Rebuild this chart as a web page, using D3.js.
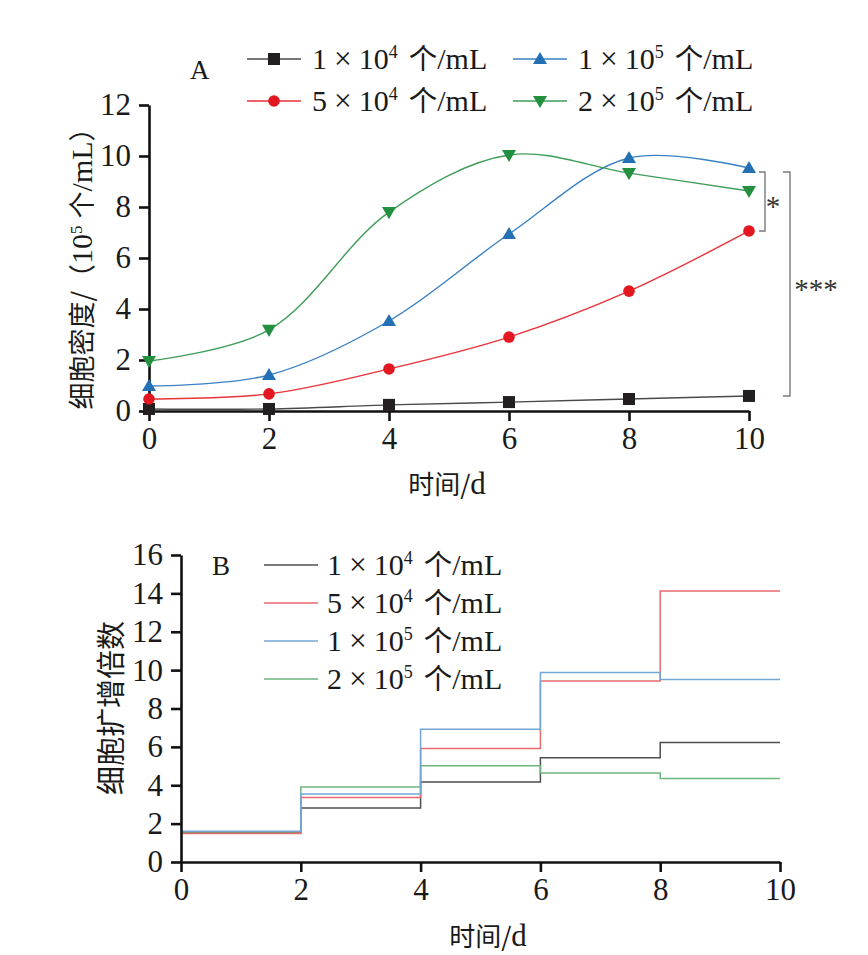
<!DOCTYPE html>
<html><head><meta charset="utf-8">
<script src="https://cdn.jsdelivr.net/npm/d3@7"></script>
<style>body{margin:0;background:#fff}</style>
</head><body>
<svg id="c" width="868" height="955"></svg>
<script>
// ---------- data ----------
const days = [0, 2, 4, 6, 8, 10];
const mantissas = ["1", "5", "1", "2"];
const exponents = ["4", "4", "5", "5"];
// Panel A: cell density (10^5 cells/mL)
const density1e4 = [0.08, 0.08, 0.24, 0.35, 0.47, 0.59];
const density5e4 = [0.47, 0.67, 1.65, 2.90, 4.70, 7.06];
const density1e5 = [0.98, 1.41, 3.53, 6.94, 9.92, 9.53];
const density2e5 = [1.96, 3.18, 7.80, 10.04, 9.33, 8.63];
// Panel B: fold expansion per interval (0-2, 2-4, 4-6, 6-8, 8-10)
const intervalStarts = [0, 2, 4, 6, 8];
const fold1e4 = [1.52, 2.82, 4.17, 5.43, 6.23];
const fold5e4 = [1.48, 3.36, 5.91, 9.43, 14.12];
const fold1e5 = [1.60, 3.55, 6.92, 9.88, 9.51];
const fold2e5 = [1.57, 3.91, 5.01, 4.64, 4.35];
const ticksAY = [0, 2, 4, 6, 8, 10, 12];
const ticksBY = [0, 2, 4, 6, 8, 10, 12, 14, 16];
const ticksX = [0, 2, 4, 6, 8, 10];
const sigLabels = ["*", "***"];

// ---------- styles ----------
const serif = "'Liberation Serif','Times New Roman',serif";
const cjk = "'Noto Sans CJK SC','Noto Sans CJK JP',sans-serif";
const markerColors = ["#231f20", "#e3171f", "#2470b5", "#23903f"];
const lineColorsA = ["#4a4a4a", "#e8333a", "#3a80c2", "#3f9d57"];
const lineColorsB = ["#4d4d4d", "#ea6a70", "#74a6d6", "#6cb57c"];
const markerTypes = ["square", "circle", "up", "down"];

const svg = d3.select("#c");

function axisStyle(g) {
  g.selectAll(".domain").attr("stroke", "#111").attr("stroke-width", 2.6);
  g.selectAll(".tick line").attr("stroke", "#111").attr("stroke-width", 2.6);
  g.selectAll(".tick text").attr("font-family", serif).attr("font-size", 31).attr("fill", "#1a1a1a");
}

function drawMarker(g, type, x, y, color) {
  if (type === "square") {
    g.append("rect").attr("x", x - 6).attr("y", y - 6).attr("width", 12).attr("height", 12).attr("fill", color);
  } else if (type === "circle") {
    g.append("circle").attr("cx", x).attr("cy", y).attr("r", 5.8).attr("fill", color);
  } else {
    const sym = d3.symbol().type(d3.symbolTriangle).size(85);
    g.append("path").attr("d", sym())
      .attr("transform", `translate(${x},${y + (type === "up" ? 1 : -1)}) rotate(${type === "up" ? 0 : 180})`)
      .attr("fill", color);
  }
}

function addLabel(g, x, y, m, e, fs) {
  const t = g.append("text").attr("x", x).attr("y", y).attr("font-size", fs)
    .attr("font-family", serif).attr("fill", "#1a1a1a");
  t.append("tspan").text(m);
  t.append("tspan").attr("dx", 7).attr("font-size", fs * 1.05).text("×");
  t.append("tspan").attr("dx", 7).text("10");
  t.append("tspan").attr("dy", -fs * 0.38).attr("font-size", fs * 0.6).text(e);
  t.append("tspan").attr("dy", fs * 0.38).attr("dx", 11).attr("font-family", cjk).attr("font-size", fs * 0.95).text("个");
  t.append("tspan").text("/mL");
}

// ================= Panel A =================
const xA = d3.scaleLinear().domain([0, 10]).range([149, 749]);
const yA = d3.scaleLinear().domain([0, 12]).range([411, 105]);
const gA = svg.append("g");

gA.append("g").attr("transform", "translate(0,411)")
  .call(d3.axisBottom(xA).tickValues(ticksX).tickSize(10).tickSizeOuter(0).tickPadding(6))
  .call(axisStyle);
gA.append("g").attr("transform", "translate(149,0)")
  .call(d3.axisLeft(yA).tickValues(ticksAY).tickSize(10).tickSizeOuter(0).tickPadding(8))
  .call(axisStyle);

const seriesA = [density1e4, density5e4, density1e5, density2e5];
const lineA = d3.line().x((d, i) => xA(days[i])).y(d => yA(d)).curve(d3.curveCatmullRom.alpha(0.5));
seriesA.forEach((s, k) => {
  gA.append("path").attr("d", lineA(s)).attr("fill", "none")
    .attr("stroke", lineColorsA[k]).attr("stroke-width", 1.4);
});
seriesA.forEach((s, k) => {
  s.forEach((v, i) => drawMarker(gA, markerTypes[k], xA(days[i]), yA(v), markerColors[k]));
});

// significance brackets
const br = gA.append("g").attr("fill", "none").attr("stroke", "#7a7a7a").attr("stroke-width", 1.4);
const b1Top = yA(density1e5[5]) + 4, b1Bot = yA(density5e4[5]);
br.append("path").attr("d", `M759,${b1Top}H765V${b1Bot}H759`);
const b2Top = b1Top, b2Bot = yA(density1e4[5]);
br.append("path").attr("d", `M783,${b2Top}H790V${b2Bot}H783`);
gA.append("text").attr("x", 773).attr("y", (b1Top + b1Bot) / 2 + 15).attr("text-anchor", "middle")
  .attr("font-family", serif).attr("font-size", 29).attr("fill", "#333").text(sigLabels[0]);
gA.append("text").attr("x", 816).attr("y", (b2Top + b2Bot) / 2 + 15).attr("text-anchor", "middle")
  .attr("font-family", serif).attr("font-size", 29).attr("fill", "#333").text(sigLabels[1]);

// titles
gA.append("text").attr("x", 447).attr("y", 494).attr("text-anchor", "middle")
  .attr("font-family", cjk).attr("font-size", 26).attr("fill", "#1a1a1a")
  .text("时间/")
  .append("tspan").attr("font-family", serif).attr("font-size", 31).text("d");
{
  const t = gA.append("text").attr("transform", "translate(92,262) rotate(-90)").attr("text-anchor", "middle")
    .attr("font-family", cjk).attr("font-size", 27).attr("fill", "#1a1a1a");
  t.append("tspan").text("细胞密度/（");
  t.append("tspan").attr("font-family", serif).attr("font-size", 30).text("10");
  t.append("tspan").attr("dy", -10).attr("font-family", serif).attr("font-size", 17).text("5");
  t.append("tspan").attr("dy", 10).attr("dx", 7).text("个");
  t.append("tspan").attr("font-family", serif).attr("font-size", 30).text("/mL");
  t.append("tspan").text("）");
}

// panel letter + legend
gA.append("text").attr("x", 190).attr("y", 79).attr("font-family", serif).attr("font-size", 27)
  .attr("fill", "#1a1a1a").text("A");
const legA = [
  { lx: 247, y: 59 }, { lx: 247, y: 101 }, { lx: 513, y: 59 }, { lx: 513, y: 101 }
];
legA.forEach((p, k) => {
  gA.append("line").attr("x1", p.lx).attr("x2", p.lx + 54).attr("y1", p.y).attr("y2", p.y)
    .attr("stroke", lineColorsA[k]).attr("stroke-width", 1.4);
  drawMarker(gA, markerTypes[k], p.lx + 27, p.y, markerColors[k]);
  addLabel(gA, p.lx + 65, p.y + 10, mantissas[k], exponents[k], 30);
});

// ================= Panel B =================
const xB = d3.scaleLinear().domain([0, 10]).range([181, 780]);
const yB = d3.scaleLinear().domain([0, 16]).range([862, 555]);
const gB = svg.append("g");

const seriesB = [fold1e4, fold5e4, fold1e5, fold2e5];
const lineB = d3.line().x(d => xB(d[0])).y(d => yB(d[1])).curve(d3.curveStepAfter);
[0, 3, 1, 2].forEach(k => {
  const s = seriesB[k];
  const pts = intervalStarts.map((x, i) => [x, s[i]]);
  pts.push([10, s[s.length - 1]]);
  gB.append("path").attr("d", lineB(pts)).attr("fill", "none")
    .attr("stroke", lineColorsB[k]).attr("stroke-width", 1.5);
});

gB.append("g").attr("transform", "translate(0,862)")
  .call(d3.axisBottom(xB).tickValues(ticksX).tickSize(10).tickSizeOuter(0).tickPadding(6))
  .call(axisStyle);
gB.append("g").attr("transform", "translate(181,0)")
  .call(d3.axisLeft(yB).tickValues(ticksBY).tickSize(10).tickSizeOuter(0).tickPadding(8))
  .call(axisStyle);

gB.append("text").attr("x", 488).attr("y", 946).attr("text-anchor", "middle")
  .attr("font-family", cjk).attr("font-size", 26).attr("fill", "#1a1a1a")
  .text("时间/")
  .append("tspan").attr("font-family", serif).attr("font-size", 31).text("d");
gB.append("text").attr("transform", "translate(122,708) rotate(-90)").attr("text-anchor", "middle")
  .attr("font-family", cjk).attr("font-size", 29).attr("fill", "#1a1a1a").text("细胞扩增倍数");

gB.append("text").attr("x", 212).attr("y", 575).attr("font-family", serif).attr("font-size", 27)
  .attr("fill", "#1a1a1a").text("B");
[565, 603, 641, 679].forEach((y, k) => {
  gB.append("line").attr("x1", 264).attr("x2", 318).attr("y1", y).attr("y2", y)
    .attr("stroke", lineColorsB[k]).attr("stroke-width", 1.5);
  addLabel(gB, 327, y + 10, mantissas[k], exponents[k], 30);
});
</script>
</body></html>
